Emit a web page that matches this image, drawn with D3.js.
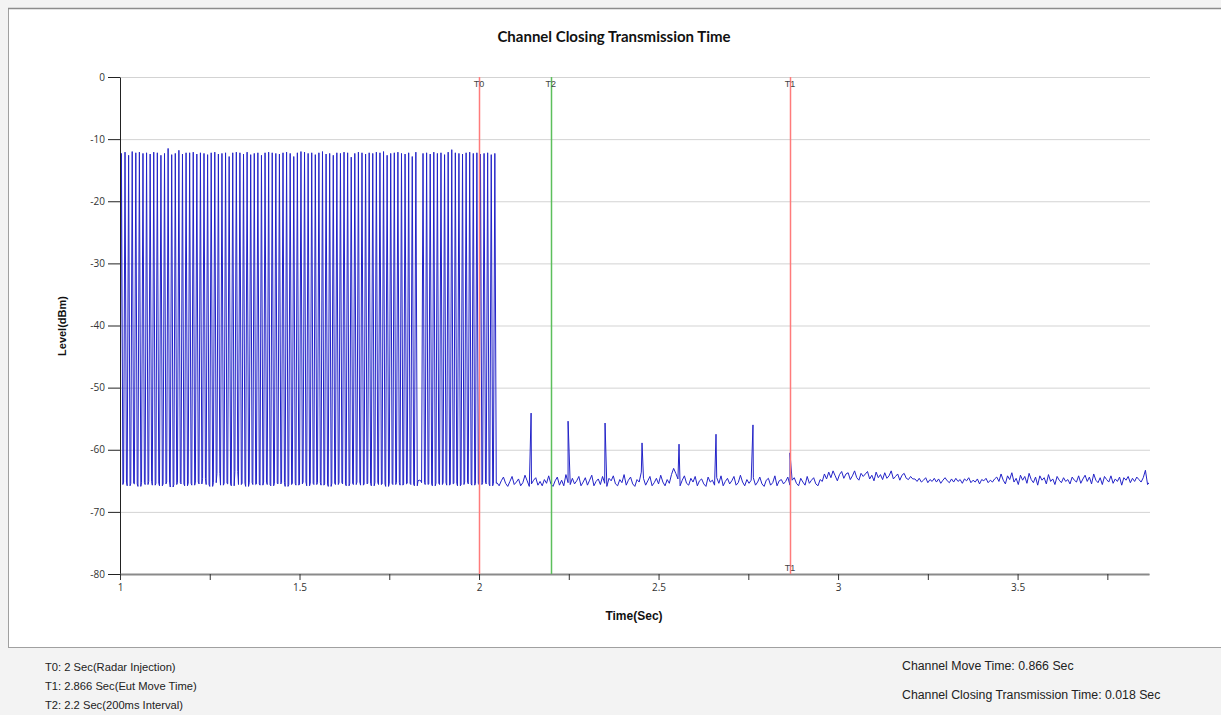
<!DOCTYPE html>
<html>
<head>
<meta charset="utf-8">
<script src="https://d3js.org/d3.v7.min.js"></script>
<style>
  body { margin: 0; background: #f3f3f3; }
  .axis text { font-family: "Open Sans", "DejaVu Sans", sans-serif; font-size: 10px; fill: #333; }
  .title { font-family: Lato, sans-serif; font-weight: bold; font-size: 15px; fill: #111; }
  .axis-label { font-family: "Liberation Sans", Arial, sans-serif; font-weight: bold; fill: #111; }
  .marker-label { font-family: "Liberation Sans", Arial, sans-serif; font-size: 9px; fill: #444; }
  .footer { font-family: "Liberation Sans", Arial, sans-serif; fill: #222; }
</style>
</head>
<body>
<div id="chart"></div>
<script>
// chart texts
const chartTitle = "Channel Closing Transmission Time";
const xLabel = "Time(Sec)";
const yLabel = "Level(dBm)";

// axes
const xDomain = [1, 3.866];
const yDomain = [-80, 0];
const yTicks = [0, -10, -20, -30, -40, -50, -60, -70, -80];
const xTicks = [1, 1.25, 1.5, 1.75, 2, 2.25, 2.5, 2.75, 3, 3.25, 3.5, 3.75];
const xTickLabels = [1, 1.5, 2, 2.5, 3, 3.5];

// markers
const markerNames = ["T0", "T1", "T2"];
const markerTimes = [2, 2.866, 2.2];
const markerNotes = ["Radar Injection", "Eut Move Time", "200ms Interval"];
const results = ["Channel Move Time: 0.866 Sec", "Channel Closing Transmission Time: 0.018 Sec"];

// radar pulse train (one pulse every 10 ms from 1 s)
const pulseStart = 1.0;
const pulsePeriod = 0.01;
const pulsePeaks = [
  -12.3,-12.1,-12.6,-12.0,-12.2,-12.1,-12.3,-12.2,-12.4,-12.1,
  -12.2,-12.6,-12.3,-11.5,-12.5,-12.3,-11.8,-12.4,-12.2,-12.2,
  -12.1,-12.4,-12.2,-12.3,-12.5,-12.2,-12.1,-12.4,-12.3,-12.2,
  -12.8,-12.2,-12.1,-12.2,-12.4,-12.1,-12.5,-12.3,-12.2,-12.6,
  -12.2,-12.1,-12.2,-12.3,-12.4,-12.2,-12.1,-12.3,-12.8,-12.2,
  -12.0,-12.1,-12.3,-12.2,-12.5,-12.2,-12.0,-12.4,-12.3,-12.6,
  -12.2,-12.3,-12.1,-12.2,-12.9,-12.3,-12.1,-12.2,-12.4,-12.2,
  -12.3,-12.1,-12.2,-12.0,-12.6,-12.3,-12.2,-12.1,-12.3,-12.4,
  -12.2,-12.8,-12.1,-64.9,-12.3,-12.2,-12.4,-12.1,-12.3,-12.2,
  -12.5,-12.1,-11.7,-12.2,-12.3,-12.4,-12.2,-12.1,-12.3,-12.2,
  -12.4,-12.3,-12.2,-12.5,-12.3
];
const pulseFloors = [
  -65.6,-65.2,-65.8,-65.4,-65.5,-65.9,-65.3,-65.6,-65.1,-65.7,
  -65.4,-65.8,-65.5,-65.2,-66.0,-65.6,-65.3,-65.5,-65.8,-65.4,
  -65.7,-65.2,-65.5,-64.6,-65.6,-65.9,-65.3,-63.8,-65.7,-65.4,
  -65.5,-65.8,-63.5,-65.6,-65.4,-65.9,-65.3,-65.6,-65.5,-65.7,
  -65.2,-65.6,-65.8,-65.4,-65.5,-65.3,-65.9,-65.6,-65.4,-65.7,
  -65.5,-65.2,-65.8,-65.4,-65.6,-65.3,-65.7,-65.5,-65.9,-65.4,
  -65.6,-65.3,-65.5,-65.8,-65.4,-65.6,-65.2,-65.7,-65.5,-65.4,
  -65.8,-65.3,-65.6,-65.5,-65.9,-65.4,-65.6,-65.3,-65.7,-65.5,
  -65.4,-65.6,-65.8,-65.0,-65.3,-65.6,-65.5,-65.8,-65.4,-65.6,
  -65.3,-65.7,-65.5,-65.4,-65.8,-65.6,-65.2,-65.5,-65.7,-65.4,
  -65.6,-65.3,-65.5,-65.8,-65.4
];

// noise floor after the channel closed (one sample every 6 ms from 2.05 s)
const floorStart = 2.05;
const floorStep = 0.006;
const floorLevels = [
  -65.3,-65.8,-65.0,-64.4,-65.4,-65.9,-65.1,-64.3,-65.6,-65.2,-64.7,-65.8,-65.3,-64.1,-65.0,-65.9,-65.5,-64.9,-64.5,-65.7,
  -65.1,-65.8,-64.8,-65.4,-64.2,-65.5,-65.9,-65.0,-64.4,-65.7,-64.9,-65.8,-64.0,-65.3,-65.6,-64.6,-65.5,-65.0,-64.3,-65.8,
  -65.2,-64.5,-65.7,-64.9,-64.1,-65.8,-65.1,-64.7,-65.6,-64.3,-65.4,-65.9,-64.6,-65.0,-64.2,-65.5,-65.8,-64.8,-65.3,-64.0,
  -65.7,-64.9,-64.4,-65.5,-65.9,-64.8,-65.2,-63.6,-64.6,-65.7,-65.0,-64.3,-65.8,-65.3,-64.6,-65.5,-64.1,-65.2,-65.8,-64.8,
  -65.4,-64.0,-63.0,-63.8,-64.7,-65.8,-64.9,-64.2,-65.4,-65.7,-64.6,-65.2,-64.3,-65.8,-65.0,-64.7,-65.5,-65.9,-64.4,-65.2,
  -64.9,-65.7,-64.5,-65.4,-64.2,-65.8,-65.1,-64.6,-65.5,-65.0,-64.3,-65.7,-65.3,-64.1,-65.2,-65.8,-64.8,-65.4,-64.9,-64.5,
  -65.7,-65.2,-64.4,-65.5,-65.9,-64.9,-64.6,-65.7,-65.3,-64.2,-65.8,-65.0,-64.8,-65.5,-65.1,-64.4,-65.7,-64.9,-64.5,-65.4,
  -65.8,-64.6,-65.2,-65.7,-64.3,-65.4,-64.9,-64.5,-65.5,-65.8,-64.8,-65.1,
  -63.9,-64.7,-63.6,-64.5,-63.4,-64.2,-65.0,-64.0,-63.5,-64.6,-63.9,-63.7,-64.8,-64.2,-63.4,-64.5,-64.9,-63.8,-64.3,-63.9,
  -63.5,-64.7,-64.1,-65.0,-63.6,-64.5,-64.0,-64.8,-63.7,-64.6,-64.2,-63.4,-64.7,-64.3,-63.9,-64.9,-64.1,-63.8,-64.6,-64.8,
  -64.3,-64.7,
  -64.7,-65.1,-64.6,-65.2,-64.9,-64.5,-65.3,-64.8,-65.1,-64.6,-65.2,-64.7,-65.4,-64.9,-64.5,-65.0,-65.3,-64.7,-65.2,-64.6,
  -65.1,-64.8,-65.4,-64.7,-65.0,-64.5,-65.3,-64.9,-65.2,-64.7,-65.5,-64.8,-65.0,-64.6,-65.3,-64.9,-65.2,-64.7,
  -64.4,-65.1,-63.9,-64.9,-65.5,-64.2,-64.8,-63.7,-65.2,-64.6,-65.6,-64.1,-64.9,-64.3,-65.4,-63.8,-64.8,-65.3,-64.4,-65.7,
  -64.2,-64.9,-64.5,-65.5,-64.0,-65.1,-64.7,-65.6,-64.3,-64.9,-65.3,-64.5,-65.1,-64.8,-65.5,-64.4,-64.9,-65.2,-64.2,-65.4,
  -64.7,-64.1,-65.1,-64.4,-65.5,-63.9,-64.9,-65.3,-64.5,-65.6,-64.3,-64.8,-65.2,-64.2,-65.4,-64.7,-65.1,-64.4,-65.7,-64.5,
  -64.9,-64.3,-65.3,-64.6,-65.1,-64.4,-64.8,-65.2,-64.5,-63.3,-65.6,-65.2
];

// short bursts seen after the radar injection
const spikeTimes = [2.145, 2.248, 2.351, 2.454, 2.557, 2.660, 2.763, 2.866];
const spikeLevels = [-54.1, -55.4, -55.7, -58.9, -59.1, -57.5, -56.0, -60.5];

const setup = {
  width: 1029,
  height: 497,
  margin: { left: 120, top: 77 },
  markerColor: { T0: "#ff7b7b", T1: "#ff7b7b", T2: "#5cbf5c" }
};

const svg = d3.select("#chart")
  .append("svg")
    .attr("width", 1221)
    .attr("height", 715);

// white chart panel
svg.append("rect")
  .attr("x", 8.5).attr("y", 8.5)
  .attr("width", 1240).attr("height", 639)
  .attr("fill", "#fff")
  .attr("stroke", "#a0a0a0");
svg.append("line")
  .attr("x1", 8).attr("x2", 1221).attr("y1", 8.5).attr("y2", 8.5)
  .attr("stroke", "#8c8c8c").attr("stroke-width", 1.5);

const xscale = d3.scaleLinear().domain(xDomain).range([0, setup.width]);
const yscale = d3.scaleLinear().domain(yDomain).range([setup.height, 0]);

const plot = svg.append("g")
  .attr("transform", `translate(${setup.margin.left},${setup.margin.top})`);

svg.append("defs").append("clipPath")
  .attr("id", "plotClip")
  .append("rect")
    .attr("x", 0).attr("y", -2)
    .attr("width", setup.width).attr("height", setup.height + 4);

// grid
plot.append("g")
  .selectAll("line")
  .data(yTicks)
  .enter().append("line")
    .attr("x1", 0).attr("x2", setup.width + 1)
    .attr("y1", d => yscale(d) + 0.5).attr("y2", d => yscale(d) + 0.5)
    .attr("stroke", "#d3d3d3");

// trace
const trace = [];
pulsePeaks.forEach((p, i) => {
  const t = pulseStart + i * pulsePeriod;
  trace.push([t, pulseFloors[i]], [t + 0.004, p], [t + 0.008, pulseFloors[i]]);
});
floorLevels.forEach((v, i) => trace.push([floorStart + i * floorStep, v]));
spikeTimes.forEach((t, i) => trace.push([t, spikeLevels[i]]));
trace.sort((a, b) => a[0] - b[0]);

const linea = d3.line()
  .x(d => xscale(d[0]))
  .y(d => yscale(d[1]));

plot.append("path")
  .datum(trace)
  .attr("clip-path", "url(#plotClip)")
  .attr("fill", "none")
  .attr("stroke", "#2323c8")
  .attr("stroke-width", 1)
  .attr("stroke-linejoin", "round")
  .attr("d", linea);

// axes
const yAxis = d3.axisLeft(yscale)
  .tickValues(yTicks)
  .tickSizeInner(12)
  .tickSizeOuter(0)
  .tickPadding(3)
  .tickFormat(d => String(d));

const yg = plot.append("g")
  .attr("class", "axis")
  .call(yAxis);
yg.select(".domain").attr("stroke", "#222");
yg.selectAll(".tick line").attr("stroke", "#222");

const xAxis = d3.axisBottom(xscale)
  .tickValues(xTicks)
  .tickSizeInner(6)
  .tickSizeOuter(0)
  .tickPadding(4)
  .tickFormat(d => xTickLabels.includes(d) ? String(d) : "");

const xg = plot.append("g")
  .attr("class", "axis")
  .attr("transform", `translate(0,${setup.height})`)
  .call(xAxis);
xg.select(".domain").attr("stroke", "#8a8a8a").attr("stroke-width", 2);
xg.selectAll(".tick line").attr("stroke", "#333");

// markers
const markers = markerNames.map((n, i) => ({ name: n, t: markerTimes[i], note: markerNotes[i] }));

plot.append("g")
  .selectAll("line")
  .data(markers)
  .enter().append("line")
    .attr("x1", d => Math.round(xscale(d.t)) + 0.5)
    .attr("x2", d => Math.round(xscale(d.t)) + 0.5)
    .attr("y1", 0).attr("y2", setup.height)
    .attr("stroke", d => setup.markerColor[d.name])
    .attr("stroke-width", 1.5);

plot.append("g")
  .selectAll("text")
  .data(markers)
  .enter().append("text")
    .attr("class", "marker-label")
    .attr("x", d => xscale(d.t))
    .attr("y", 10)
    .attr("text-anchor", "middle")
    .text(d => d.name);

plot.append("text")
  .attr("class", "marker-label")
  .attr("x", xscale(markers[1].t))
  .attr("y", setup.height - 3)
  .attr("text-anchor", "middle")
  .text(markers[1].name);

// titles
svg.append("text")
  .attr("class", "title")
  .attr("x", 614).attr("y", 42)
  .attr("text-anchor", "middle")
  .text(chartTitle);

svg.append("text")
  .attr("class", "axis-label")
  .attr("x", 634).attr("y", 620)
  .attr("text-anchor", "middle")
  .style("font-size", "12px")
  .text(xLabel);

svg.append("text")
  .attr("class", "axis-label")
  .attr("transform", "translate(66,326) rotate(-90)")
  .attr("text-anchor", "middle")
  .style("font-size", "11px")
  .text(yLabel);

// footer
svg.append("g")
  .selectAll("text")
  .data(markers)
  .enter().append("text")
    .attr("class", "footer")
    .attr("x", 45)
    .attr("y", (d, i) => 671 + i * 19)
    .style("font-size", "11.2px")
    .text(d => `${d.name}: ${d.t} Sec(${d.note})`);

svg.append("g")
  .selectAll("text")
  .data(results)
  .enter().append("text")
    .attr("class", "footer")
    .attr("x", 902)
    .attr("y", (d, i) => 670 + i * 29)
    .style("font-size", "12.3px")
    .text(d => d);
</script>
</body>
</html>
